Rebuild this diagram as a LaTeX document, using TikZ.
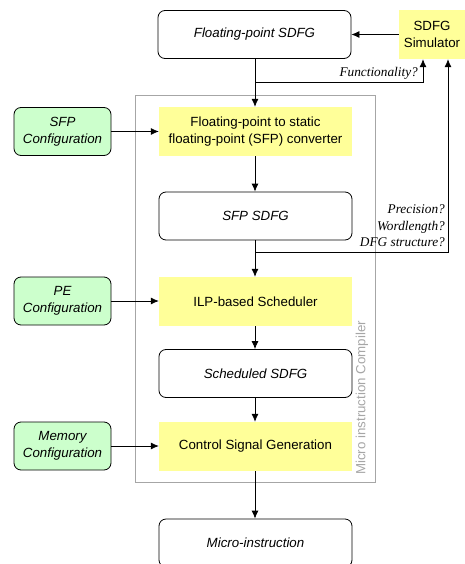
\documentclass[tikz,border=0pt]{standalone}
\usepackage{fontspec}
\setmainfont{Liberation Sans}
\newfontfamily\labelfont{Liberation Serif}
\usetikzlibrary{arrows.meta}
\definecolor{boxyellow}{HTML}{FFFF99}
\definecolor{boxgreen}{HTML}{CCFFCC}
\definecolor{framegray}{HTML}{A6A6A6}
\tikzset{
  base/.style={font=\fontsize{13.3}{16.5}\selectfont, align=center, inner sep=2pt},
  graphbox/.style={base, draw, line width=0.8pt, rounded corners=7pt, fill=white,
    minimum width=193pt, minimum height=48pt, font=\fontsize{13.3}{16.5}\selectfont\itshape},
  stagebox/.style={base, fill=boxyellow, minimum width=193pt, minimum height=49pt},
  confbox/.style={base, draw, line width=0.8pt, rounded corners=7pt, fill=boxgreen,
    minimum width=97pt, minimum height=48pt, font=\fontsize{13.3}{16.5}\selectfont\itshape},
  query/.style={font=\fontsize{13.3}{16.5}\selectfont\labelfont\itshape, inner sep=1pt},
  flow/.style={line width=0.8pt, -{Latex[length=8pt,width=7pt]}},
}
\begin{document}
\begin{tikzpicture}[x=1pt,y=-1pt]
  \useasboundingbox (0,0) rectangle (465,564);
  \clip (0,0) rectangle (465,564);

  % compiler frame with its rotated caption
  \node[draw=framegray, line width=0.9pt, minimum width=240pt, minimum height=387pt, inner sep=0pt]
    (comp) at (255,288.5) {};
  \node[base, rotate=90, text=framegray] (compname) at (362,398) {Micro instruction Compiler};

  % main flow
  \node[graphbox] (fp)    at (254.5,34.5) {Floating-point SDFG};
  \node[stagebox] (conv)  at (255.5,131.5) {Floating-point to static\\floating-point (SFP) converter};
  \node[graphbox] (sfp)   at (255.5,216) {SFP SDFG};
  \node[stagebox] (ilp)   at (255.5,301.5) {ILP-based Scheduler};
  \node[graphbox] (sched) at (255.5,373.5) {Scheduled SDFG};
  \node[stagebox] (ctrl)  at (255.5,446.5) {Control Signal Generation};
  \node[graphbox] (micro) at (255.5,543) {Micro-instruction};

  % simulator
  \node[base, fill=boxyellow, minimum width=66pt, minimum height=49pt] (sim) at (432,34.5) {SDFG\\Simulator};

  % configuration inputs
  \node[confbox] (sfpconf) at (62.5,131.5) {SFP\\Configuration};
  \node[confbox] (peconf)  at (62.5,301) {PE\\Configuration};
  \node[confbox] (memconf) at (62.5,446) {Memory\\Configuration};

  % vertical flow
  \coordinate (j1) at (255,82);
  \coordinate (j2) at (255,252);
  \draw[flow] (fp.south -| j1) -- (conv.north -| j1);
  \draw[flow] (conv.south -| j2) -- (sfp.north -| j2);
  \draw[flow] (sfp.south -| j2) -- (ilp.north -| j2);
  \draw[flow] (ilp.south -| j2) -- (sched.north -| j2);
  \draw[flow] (sched.south -| j2) -- (ctrl.north -| j2);
  \draw[flow] (ctrl.south -| j2) -- (micro.north -| j2);

  % configuration arrows
  \draw[flow] (sfpconf) -- (conv);
  \draw[flow] (peconf.east) -- (peconf.east -| ilp.west);
  \draw[flow] (memconf.east) -- (memconf.east -| ctrl.west);

  % simulator loop
  \draw[flow] (sim) -- (fp);
  \draw[flow] (j1) -| ([xshift=-9pt]sim.south);
  \draw[flow] (j2) -| ([xshift=16pt]sim.south);

  % query labels
  \node[query, anchor=south east] (qf) at (419,81) {Functionality?};
  \node[query, anchor=base east] (qp) at (446,213) {Precision?};
  \node[query, anchor=base east] (qw) at (446,230) {Wordlength?};
  \node[query, anchor=base east] (qd) at (446,246.5) {DFG structure?};
\end{tikzpicture}
\end{document}
